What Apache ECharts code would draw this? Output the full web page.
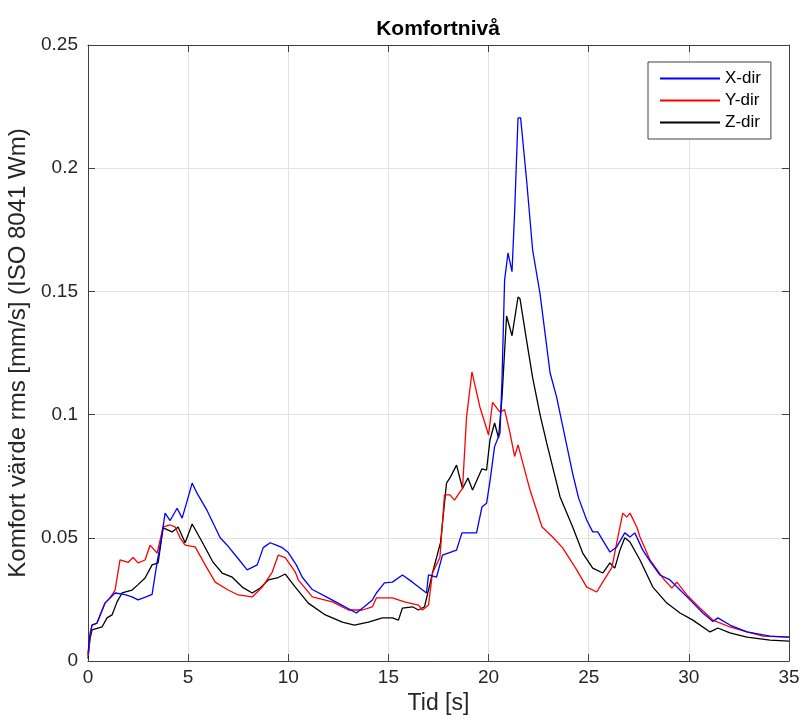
<!DOCTYPE html>
<html>
<head>
<meta charset="utf-8">
<title>Komfortnivå</title>
<script src="https://cdn.jsdelivr.net/npm/echarts@6/dist/echarts.min.js"></script>
<style>
  html, body { margin: 0; padding: 0; background: #fff; }
  #chart { width: 807px; height: 722px; }
</style>
</head>
<body>
<div id="chart"></div>
<script>
// tid [s] och komfortvärde per riktning
const tidX = [0, 0.1, 0.2, 0.45, 0.85, 1.1, 1.35, 1.8, 2.2, 2.5, 2.9, 3.2, 3.45, 3.65, 3.85, 4.1, 4.45, 4.7, 4.95, 5.2, 5.45, 5.95, 6.6, 6.95, 7.45, 7.95, 8.45, 8.75, 9.1, 9.4, 9.7, 10.0, 10.4, 10.7, 11.2, 11.9, 12.6, 13.4, 13.9, 14.2, 14.4, 14.8, 15.2, 15.7, 16.2, 16.9, 17.0, 17.4, 17.7, 18.4, 18.67, 19.4, 19.67, 19.9, 20.07, 20.3, 20.57, 20.67, 20.8, 20.97, 21.17, 21.3, 21.47, 21.6, 21.9, 22.2, 22.57, 23.07, 23.4, 24.2, 24.5, 24.9, 25.2, 25.45, 26.06, 26.4, 26.8, 27.06, 27.3, 27.7, 28.1, 28.56, 29.06, 29.56, 30.06, 30.7, 31.2, 31.45, 32.05, 32.9, 34.05, 35];
const vardeX = [0.003, 0.011, 0.0146, 0.0154, 0.0235, 0.0256, 0.0276, 0.027, 0.026, 0.0248, 0.026, 0.027, 0.040, 0.049, 0.060, 0.057, 0.062, 0.058, 0.065, 0.0722, 0.068, 0.061, 0.050, 0.047, 0.042, 0.037, 0.039, 0.046, 0.048, 0.047, 0.046, 0.044, 0.039, 0.034, 0.029, 0.026, 0.023, 0.0195, 0.0227, 0.0248, 0.0276, 0.0317, 0.032, 0.0349, 0.032, 0.0276, 0.035, 0.034, 0.043, 0.045, 0.052, 0.052, 0.0625, 0.064, 0.073, 0.087, 0.0925, 0.114, 0.1546, 0.1656, 0.158, 0.182, 0.2204, 0.2204, 0.195, 0.1668, 0.149, 0.117, 0.107, 0.076, 0.066, 0.0572, 0.0524, 0.0524, 0.0442, 0.0463, 0.052, 0.0503, 0.052, 0.045, 0.040, 0.0349, 0.0329, 0.0288, 0.0248, 0.0195, 0.016, 0.0175, 0.0146, 0.0118, 0.0101, 0.0097];

const tidY = [0, 0.1, 0.2, 0.45, 0.85, 1.1, 1.35, 1.6, 2.0, 2.25, 2.5, 2.85, 3.1, 3.45, 3.75, 4.1, 4.35, 4.6, 4.85, 5.35, 5.85, 6.35, 7.0, 7.5, 8.2, 8.7, 9.2, 9.5, 9.85, 10.35, 10.5, 11.2, 12.2, 13.0, 13.7, 14.2, 14.4, 15.2, 15.8, 16.5, 16.7, 17.0, 17.2, 17.57, 17.8, 18.07, 18.3, 18.57, 18.7, 18.9, 19.17, 19.57, 20.0, 20.2, 20.57, 20.8, 21.07, 21.3, 21.47, 21.9, 22.07, 22.67, 23.2, 23.7, 24.4, 24.9, 25.4, 25.7, 26.16, 26.4, 26.7, 26.9, 27.06, 27.4, 27.56, 28.06, 28.7, 29.15, 29.4, 29.9, 30.55, 31.2, 32.05, 32.9, 33.7, 35];
const vardeY = [0.002, 0.010, 0.0146, 0.0154, 0.0235, 0.0256, 0.0288, 0.041, 0.040, 0.042, 0.0398, 0.041, 0.047, 0.0438, 0.0544, 0.0552, 0.0544, 0.050, 0.047, 0.0463, 0.039, 0.032, 0.0288, 0.0268, 0.026, 0.030, 0.0361, 0.043, 0.042, 0.0361, 0.0329, 0.026, 0.024, 0.0207, 0.0207, 0.022, 0.0256, 0.0256, 0.024, 0.0227, 0.0207, 0.0227, 0.0357, 0.042, 0.0674, 0.0674, 0.0653, 0.0686, 0.070, 0.099, 0.1173, 0.103, 0.0917, 0.105, 0.101, 0.102, 0.0925, 0.083, 0.0877, 0.0745, 0.0694, 0.0544, 0.0503, 0.0459, 0.037, 0.030, 0.028, 0.032, 0.038, 0.048, 0.060, 0.0584, 0.060, 0.0544, 0.0503, 0.041, 0.0337, 0.0296, 0.032, 0.0268, 0.0215, 0.0166, 0.0138, 0.0118, 0.0101, 0.0097];

const tidZ = [0, 0.1, 0.2, 0.7, 0.95, 1.2, 1.45, 1.7, 2.2, 2.5, 2.85, 3.2, 3.5, 3.75, 4.2, 4.5, 4.85, 5.2, 5.7, 6.25, 6.7, 7.2, 7.7, 8.2, 8.6, 9.0, 9.45, 9.85, 10.35, 11.0, 11.85, 12.7, 13.3, 14.0, 14.7, 15.2, 15.5, 15.7, 16.2, 16.5, 16.8, 17.2, 17.5, 17.6, 17.9, 18.07, 18.4, 18.7, 18.97, 19.2, 19.67, 19.9, 20.07, 20.3, 20.5, 20.67, 20.9, 21.17, 21.47, 21.57, 21.9, 22.2, 22.57, 22.9, 23.57, 24.2, 24.7, 25.2, 25.7, 26.06, 26.3, 26.56, 26.8, 27.06, 27.56, 28.2, 28.9, 29.56, 30.2, 31.06, 31.45, 32.05, 32.9, 34.05, 35];
const vardeZ = [0.001, 0.009, 0.0126, 0.0138, 0.0175, 0.0187, 0.024, 0.0276, 0.0288, 0.031, 0.0337, 0.039, 0.0398, 0.054, 0.0524, 0.0544, 0.048, 0.0556, 0.0483, 0.040, 0.0357, 0.034, 0.030, 0.0276, 0.0296, 0.0329, 0.0337, 0.0353, 0.030, 0.0235, 0.0187, 0.0158, 0.0146, 0.0158, 0.0175, 0.0175, 0.0166, 0.0215, 0.022, 0.0207, 0.022, 0.0357, 0.045, 0.048, 0.0722, 0.0743, 0.0795, 0.070, 0.0743, 0.0694, 0.078, 0.0775, 0.0897, 0.0966, 0.0905, 0.107, 0.140, 0.132, 0.1477, 0.147, 0.130, 0.115, 0.100, 0.0885, 0.0666, 0.0544, 0.0438, 0.0377, 0.0357, 0.0398, 0.0377, 0.045, 0.050, 0.0483, 0.041, 0.030, 0.0235, 0.0195, 0.0166, 0.0118, 0.0134, 0.0114, 0.0097, 0.0085, 0.0081];

const namn = ['X-dir', 'Y-dir', 'Z-dir'];
const farger = ['#0000ff', '#ff0000', '#000000'];

const font = '"Liberation Sans", Arial, sans-serif';
const axelFarg = '#404040';

function par(t, v) {
  return t.map((x, i) => [x, v[i]]);
}

const chart = echarts.init(document.getElementById('chart'));

const baseX = {
  type: 'value', min: 0, max: 35, interval: 5,
  axisLine: { show: true, onZero: false, lineStyle: { color: axelFarg, width: 1 } },
  axisTick: { show: true, inside: true, length: 7, lineStyle: { color: axelFarg } }
};
const baseY = {
  type: 'value', min: 0, max: 0.25, interval: 0.05,
  axisLine: { show: true, onZero: false, lineStyle: { color: axelFarg, width: 1 } },
  axisTick: { show: true, inside: true, length: 7, lineStyle: { color: axelFarg } }
};

chart.setOption({
  animation: false,
  backgroundColor: '#fff',
  textStyle: { fontFamily: font },
  title: {
    text: 'Komfortnivå',
    left: 433,
    textAlign: 'center',
    top: 14,
    textStyle: { fontFamily: font, fontSize: 21, fontWeight: 'bold', color: '#000' }
  },
  grid: { left: 88, right: 18, top: 45, bottom: 61, containLabel: false, outerBoundsMode: 'none' },
  legend: {
    orient: 'vertical',
    left: 648,
    top: 62,
    align: 'left',
    icon: 'rect',
    itemWidth: 60,
    itemHeight: 2,
    itemGap: 5,
    padding: [8, 10, 8, 12],
    borderColor: axelFarg,
    borderWidth: 1,
    backgroundColor: '#fff',
    textStyle: { fontFamily: font, fontSize: 17, color: '#000' },
    data: namn
  },
  xAxis: [
    Object.assign({}, baseX, {
      position: 'bottom',
      name: 'Tid [s]',
      nameLocation: 'middle',
      nameGap: 25,
      nameTextStyle: { fontFamily: font, fontSize: 23, color: '#262626' },
      axisLabel: { fontFamily: font, fontSize: 19, color: '#262626', margin: 7 },
      splitLine: { show: true, lineStyle: { color: '#e2e2e2', width: 1 } }
    }),
    Object.assign({}, baseX, {
      position: 'top',
      axisLabel: { show: false },
      splitLine: { show: false }
    })
  ],
  yAxis: [
    Object.assign({}, baseY, {
      position: 'left',
      name: 'Komfort värde rms [mm/s] (ISO 8041 Wm)',
      nameLocation: 'middle',
      nameGap: 54,
      nameTextStyle: { fontFamily: font, fontSize: 24, color: '#262626' },
      axisLabel: { fontFamily: font, fontSize: 19, color: '#262626', margin: 10 },
      splitLine: { show: true, lineStyle: { color: '#e2e2e2', width: 1 } }
    }),
    Object.assign({}, baseY, {
      position: 'right',
      axisLabel: { show: false },
      splitLine: { show: false }
    })
  ],
  series: [
    { name: namn[0], type: 'line', data: par(tidX, vardeX) },
    { name: namn[1], type: 'line', data: par(tidY, vardeY) },
    { name: namn[2], type: 'line', data: par(tidZ, vardeZ) }
  ].map((s, i) => Object.assign(s, {
    xAxisIndex: 0,
    yAxisIndex: 0,
    showSymbol: false,
    symbol: 'none',
    color: farger[i],
    lineStyle: { color: farger[i], width: 1.3 },
    z: 3 - i
  }))
});
</script>
</body>
</html>
